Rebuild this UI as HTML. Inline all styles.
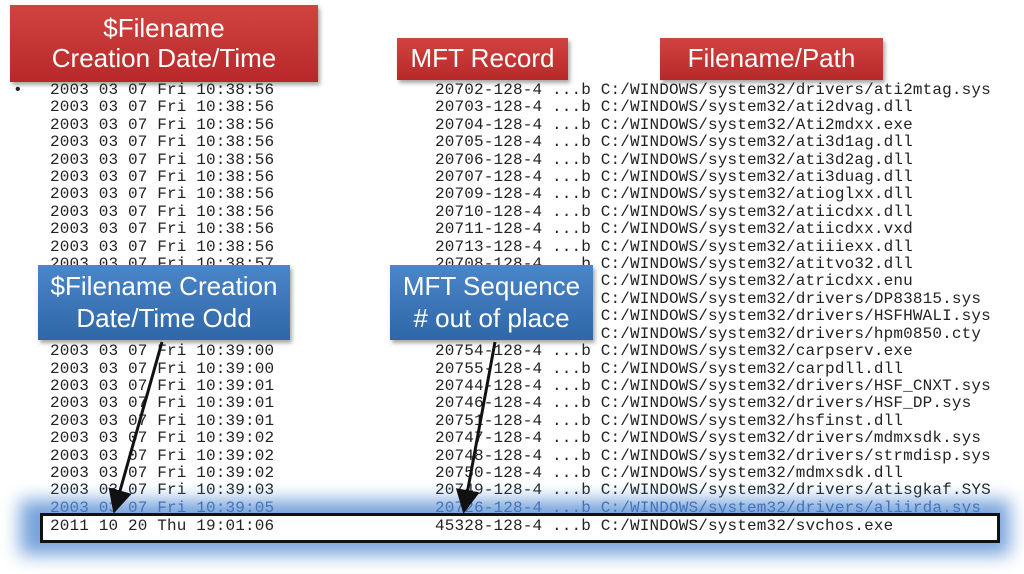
<!DOCTYPE html>
<html><head><meta charset="utf-8"><style>
body{margin:0;width:1024px;height:574px;background:#fff;position:relative;overflow:hidden;font-family:"Liberation Mono",monospace;}
.r{position:absolute;font-size:16px;letter-spacing:0.15px;color:#222;white-space:pre;line-height:17.4px;}
.red{position:absolute;background:linear-gradient(#d04440,#b8282a);color:#fff;font-family:"Liberation Sans Narrow","Liberation Sans",sans-serif;text-align:center;box-shadow:2px 3px 4px rgba(0,0,0,.35);display:flex;align-items:center;justify-content:center;line-height:1.15;}
.blue{position:absolute;background:linear-gradient(#4a86c8,#2f67a8);color:#fff;font-family:"Liberation Sans Narrow","Liberation Sans",sans-serif;text-align:center;box-shadow:2px 3px 4px rgba(0,0,0,.35);display:flex;align-items:center;justify-content:center;line-height:1.2;font-size:26px;}
</style></head><body>
<div class="red" style="left:10px;top:5px;width:308px;height:77px;font-size:26px">$Filename<br>Creation Date/Time</div>
<div class="red" style="left:397px;top:38px;width:171px;height:42px;font-size:26px">MFT Record</div>
<div class="red" style="left:660px;top:38px;width:223px;height:42px;font-size:26px">Filename/Path</div>
<div class="r" style="left:13px;top:82px">•</div>
<div class="r" style="left:50px;top:82px">2003 03 07 Fri 10:38:56
2003 03 07 Fri 10:38:56
2003 03 07 Fri 10:38:56
2003 03 07 Fri 10:38:56
2003 03 07 Fri 10:38:56
2003 03 07 Fri 10:38:56
2003 03 07 Fri 10:38:56
2003 03 07 Fri 10:38:56
2003 03 07 Fri 10:38:56
2003 03 07 Fri 10:38:56
2003 03 07 Fri 10:38:57
2003 03 07 Fri 10:38:58
2003 03 07 Fri 10:38:58
2003 03 07 Fri 10:38:59
2003 03 07 Fri 10:38:59
2003 03 07 Fri 10:39:00
2003 03 07 Fri 10:39:00
2003 03 07 Fri 10:39:01
2003 03 07 Fri 10:39:01
2003 03 07 Fri 10:39:01
2003 03 07 Fri 10:39:02
2003 03 07 Fri 10:39:02
2003 03 07 Fri 10:39:02
2003 03 07 Fri 10:39:03
<span style="color:#3a5f9a">2003 03 07 Fri 10:39:05</span></div>
<div class="r" style="left:435px;top:82px">20702-128-4 ...b C:/WINDOWS/system32/drivers/ati2mtag.sys
20703-128-4 ...b C:/WINDOWS/system32/ati2dvag.dll
20704-128-4 ...b C:/WINDOWS/system32/Ati2mdxx.exe
20705-128-4 ...b C:/WINDOWS/system32/ati3d1ag.dll
20706-128-4 ...b C:/WINDOWS/system32/ati3d2ag.dll
20707-128-4 ...b C:/WINDOWS/system32/ati3duag.dll
20709-128-4 ...b C:/WINDOWS/system32/atioglxx.dll
20710-128-4 ...b C:/WINDOWS/system32/atiicdxx.dll
20711-128-4 ...b C:/WINDOWS/system32/atiicdxx.vxd
20713-128-4 ...b C:/WINDOWS/system32/atiiiexx.dll
20708-128-4 ...b C:/WINDOWS/system32/atitvo32.dll
20712-128-4 ...b C:/WINDOWS/system32/atricdxx.enu
20714-128-4 ...b C:/WINDOWS/system32/drivers/DP83815.sys
20740-128-4 ...b C:/WINDOWS/system32/drivers/HSFHWALI.sys
20741-128-4 ...b C:/WINDOWS/system32/drivers/hpm0850.cty
20754-128-4 ...b C:/WINDOWS/system32/carpserv.exe
20755-128-4 ...b C:/WINDOWS/system32/carpdll.dll
20744-128-4 ...b C:/WINDOWS/system32/drivers/HSF_CNXT.sys
20746-128-4 ...b C:/WINDOWS/system32/drivers/HSF_DP.sys
20751-128-4 ...b C:/WINDOWS/system32/hsfinst.dll
20747-128-4 ...b C:/WINDOWS/system32/drivers/mdmxsdk.sys
20748-128-4 ...b C:/WINDOWS/system32/drivers/strmdisp.sys
20750-128-4 ...b C:/WINDOWS/system32/mdmxsdk.dll
20749-128-4 ...b C:/WINDOWS/system32/drivers/atisgkaf.SYS
<span style="color:#3a5f9a">20726-128-4 ...b C:/WINDOWS/system32/drivers/aliirda.sys</span></div>
<div style="position:absolute;left:20px;top:500px;width:990px;height:55px;background:#4a84d0;filter:blur(9px);opacity:.75"></div>
<div style="position:absolute;left:40px;top:513px;width:954px;height:24px;border:3px solid #111;background:#fff"></div>
<div class="r" style="left:50px;top:518px">2011 10 20 Thu 19:01:06</div>
<div class="r" style="left:435px;top:518px">45328-128-4 ...b C:/WINDOWS/system32/svchos.exe</div>
<div class="blue" style="left:38px;top:265px;width:252px;height:75px">$Filename Creation<br>Date/Time Odd</div>
<div class="blue" style="left:390px;top:265px;width:203px;height:75px">MFT Sequence<br># out of place</div>
<svg style="position:absolute;left:0;top:0" width="1024" height="574">
<defs><marker id="a" markerWidth="8" markerHeight="8" refX="5" refY="4" orient="auto"><path d="M0,0 L8,4 L0,8 z" fill="#111"/></marker></defs>
<line x1="162" y1="342" x2="116" y2="505" stroke="#111" stroke-width="3" marker-end="url(#a)"/>
<line x1="495" y1="342" x2="465" y2="505" stroke="#111" stroke-width="3" marker-end="url(#a)"/>
</svg>
</body></html>
